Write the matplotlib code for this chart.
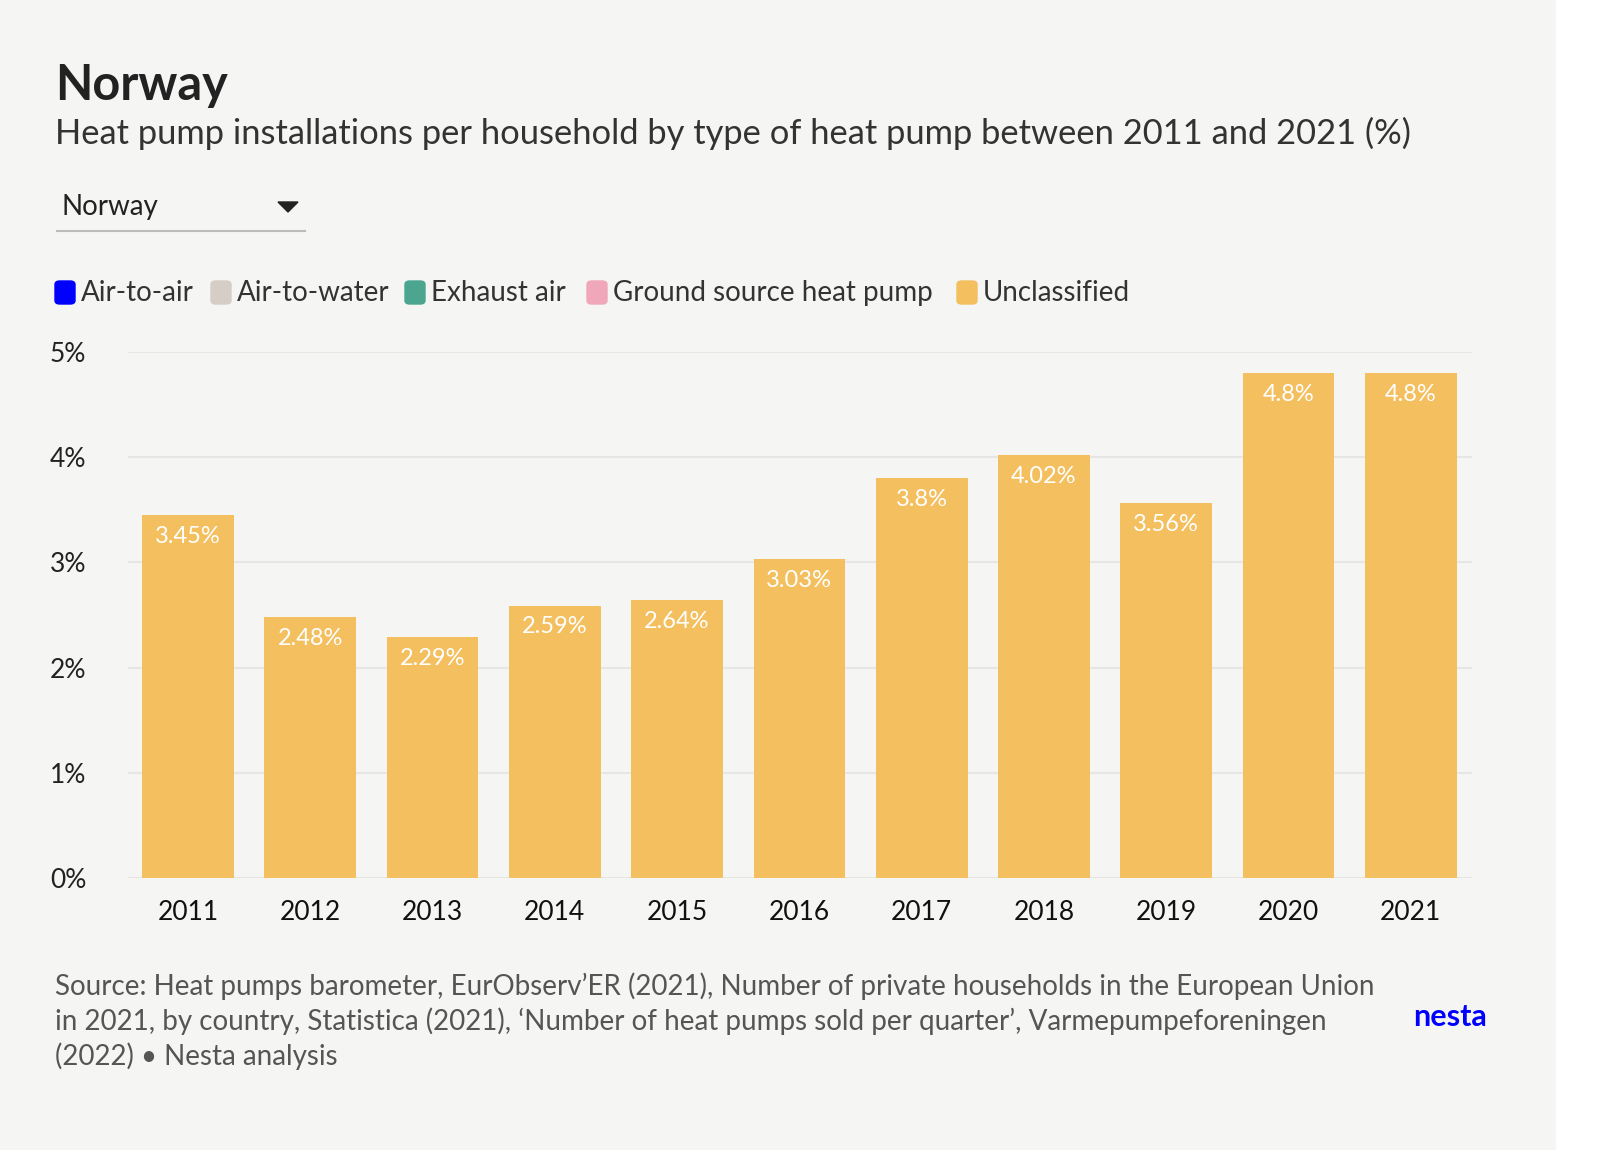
import matplotlib
matplotlib.use("Agg")
import matplotlib.pyplot as plt

years = ["2011","2012","2013","2014","2015","2016","2017","2018","2019","2020","2021"]
values = [3.45,2.48,2.29,2.59,2.64,3.03,3.8,4.02,3.56,4.8,4.8]
labels = ["3.45%","2.48%","2.29%","2.59%","2.64%","3.03%","3.8%","4.02%","3.56%","4.8%","4.8%"]
legend_names = ["Air-to-air","Air-to-water","Exhaust air","Ground source heat pump","Unclassified"]
legend_colors = ["#0000ff","#d5cdc6","#4ca58f","#f0a8b8","#f3bf5f"]
yticks = [0,1,2,3,4,5]

plt.rcParams['font.family'] = ['Lato','DejaVu Sans']
W,H = 1602,1150
fig = plt.figure(figsize=(W/100,H/100), dpi=100, facecolor="#f5f6f3")
def fx(x): return x/W
def fy(y): return 1-y/H

ax = fig.add_axes([fx(128), fy(878), fx(1472)-fx(128), fy(352)-fy(878)])
ax.set_facecolor("#f5f6f3")
x = range(len(years))
ax.bar(x, values, width=0.75, color="#f3bf5f", zorder=2)
for i,(v,l) in enumerate(zip(values,labels)):
    ax.text(i, v-0.1, l, ha="center", va="top", color="white", fontsize=17)
ax.set_xlim(-0.49,10.5)
ax.set_ylim(0,5)
ax.set_yticks(yticks)
ax.set_yticklabels([f"{t}%" for t in yticks], fontsize=19, color="#222")
ax.set_xticks(list(x))
ax.set_xticklabels(years, fontsize=19, color="#111")
ax.grid(axis="y", color="#e6e6e3", lw=1.5, zorder=0)
for s in ax.spines.values(): s.set_visible(False)
ax.tick_params(length=0)
ax.tick_params(axis="y", pad=30)
ax.tick_params(axis="x", pad=16)

fig.text(fx(55), fy(85), "Norway", fontsize=35, fontweight="bold", color="#222", va="center")
fig.text(fx(55), fy(133), "Heat pump installations per household by type of heat pump between 2011 and 2021 (%)", fontsize=24.8, color="#333", va="center")
fig.text(fx(62), fy(207), "Norway", fontsize=20, color="#222", va="center")
fig.patches.append(plt.Polygon([[fx(278),fy(202)],[fx(298),fy(202)],[fx(288),fy(212)]], closed=True, transform=fig.transFigure, color="#222"))
fig.lines.append(plt.Line2D([fx(57),fx(305)],[fy(231),fy(231)], transform=fig.transFigure, color="#bbb", lw=1.5))

pos = [55, 211, 405, 587, 957]
for p,n,c in zip(pos,legend_names,legend_colors):
    fig.patches.append(matplotlib.patches.FancyBboxPatch((fx(p),fy(304)),fx(20),fy(281)-fy(304),
        boxstyle="round,pad=0,rounding_size=0.003", transform=fig.transFigure, color=c))
    fig.text(fx(p+26), fy(293), n, fontsize=20, color="#333", va="center")

fig.text(fx(55), fy(986), "Source: Heat pumps barometer, EurObserv’ER (2021), Number of private households in the European Union", fontsize=20, color="#555", va="center")
fig.text(fx(55), fy(1021), "in 2021, by country, Statistica (2021), ‘Number of heat pumps sold per quarter’, Varmepumpeforeningen", fontsize=20, color="#555", va="center")
fig.text(fx(55), fy(1056), "(2022) • Nesta analysis", fontsize=20, color="#555", va="center")
fig.text(fx(1487), fy(1017), "nesta", fontsize=22, fontweight="bold", color="#0000ff", ha="right", va="center")
fig.patches.append(plt.Rectangle((fx(1556),0),1-fx(1556),1, transform=fig.transFigure, color="white"))

fig.savefig("out.png", dpi=100, facecolor=fig.get_facecolor())
